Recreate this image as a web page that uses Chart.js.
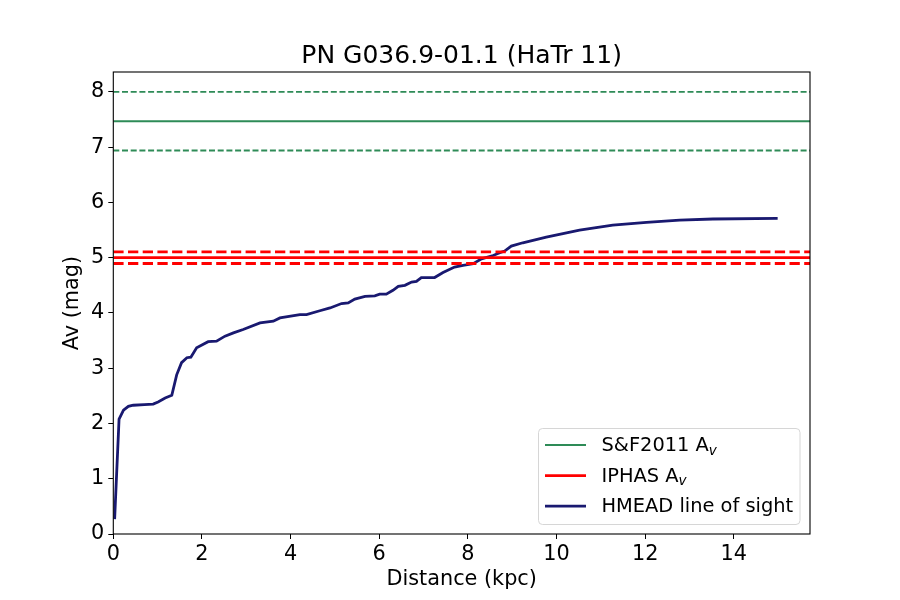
<!DOCTYPE html>
<html>
<head>
<meta charset="utf-8">
<script src="https://cdn.jsdelivr.net/npm/chart.js@4.4.1/dist/chart.umd.min.js"></script>
<style>
  html, body { margin: 0; padding: 0; background: #fff; }
  #wrap { width: 900px; height: 600px; }
</style>
</head>
<body>
<div id="wrap"><canvas id="avChart"></canvas></div>
<script>
// HMEAD line of sight
const distance = [0.03, 0.13, 0.23, 0.34, 0.45, 0.70, 0.90, 1.01, 1.17, 1.32, 1.43, 1.54, 1.66, 1.75, 1.88,
  2.14, 2.33, 2.52, 2.71, 2.93, 3.31, 3.61, 3.76, 4.21, 4.36, 4.66, 4.89, 5.15, 5.30, 5.45, 5.68,
  5.90, 6.01, 6.16, 6.31, 6.43, 6.58, 6.73, 6.84, 6.95, 7.25, 7.44, 7.70, 7.89, 8.12, 8.31, 8.57,
  8.72, 8.83, 8.98, 9.24, 9.77, 10.52, 11.27, 12.03, 12.78, 13.53, 14.99];
const hmeadAv = [0.27, 2.08, 2.24, 2.31, 2.33, 2.34, 2.35, 2.39, 2.46, 2.51, 2.88, 3.10, 3.19, 3.20, 3.37,
  3.48, 3.49, 3.58, 3.64, 3.70, 3.82, 3.85, 3.91, 3.97, 3.97, 4.04, 4.09, 4.17, 4.18, 4.25, 4.30,
  4.31, 4.34, 4.34, 4.41, 4.48, 4.50, 4.56, 4.57, 4.64, 4.64, 4.73, 4.83, 4.86, 4.89, 4.98, 5.04,
  5.09, 5.12, 5.21, 5.27, 5.37, 5.50, 5.59, 5.64, 5.68, 5.70, 5.71];

const sfAv = 7.47, sfErr = 0.53;
const iphasAv = 5.0, iphasErr = 0.105;

const xMax = 15.72, yMax = 8.36;
const xTicks = [0, 2, 4, 6, 8, 10, 12, 14];
const yTicks = [0, 1, 2, 3, 4, 5, 6, 7, 8];

const FONT = "'DejaVu Sans', sans-serif";

function hline(v) {
  return [{x: 0, y: v}, {x: xMax, y: v}];
}

let curve = distance.map((d, i) => ({x: d, y: hmeadAv[i]}));

// draws box around plot + matplotlib style legend
const framePlugin = {
  id: 'frame',
  afterDraw(chart) {
    const c = chart.ctx, a = chart.chartArea;
    c.save();
    c.strokeStyle = '#000';
    c.lineWidth = 1.1;
    c.strokeRect(a.left, a.top, a.right - a.left, a.bottom - a.top);

    // legend
    const items = chart.data.datasets.filter(ds => ds.legendText);
    const bx = 538.5, by = 428.5, bw = 261.5, bh = 96;
    c.beginPath();
    c.roundRect(bx, by, bw, bh, 4);
    c.fillStyle = 'rgba(255,255,255,0.8)';
    c.fill();
    c.strokeStyle = '#d6d6d6';
    c.lineWidth = 1;
    c.stroke();
    items.forEach((ds, i) => {
      const y = 445 + i * 30.6;
      c.strokeStyle = ds.borderColor;
      c.lineWidth = ds.borderWidth;
      c.beginPath();
      c.moveTo(545, y);
      c.lineTo(586, y);
      c.stroke();
      c.fillStyle = '#000';
      c.textBaseline = 'middle';
      c.font = '19.4px ' + FONT;
      let t = ds.legendText[0];
      c.fillText(t, 601.5, y + 1);
      if (ds.legendText[1]) {
        const w = c.measureText(t).width;
        c.font = 'italic 13.6px ' + FONT;
        c.fillText(ds.legendText[1], 601.5 + w, y + 6);
      }
    });
    c.restore();
  }
};

const ctx = document.getElementById('avChart');
const chart = new Chart(ctx, {
  type: 'line',
  data: {
    datasets: [
      { data: hline(sfAv + sfErr), borderColor: '#2e8b57', borderWidth: 1.9, borderDash: [6, 2.7] },
      { data: hline(sfAv), borderColor: '#2e8b57', borderWidth: 1.9, legendText: ['S&F2011 A', 'v'] },
      { data: hline(sfAv - sfErr), borderColor: '#2e8b57', borderWidth: 1.9, borderDash: [6, 2.7] },
      { data: hline(iphasAv + iphasErr), borderColor: '#ff0000', borderWidth: 2.8, borderDash: [10.3, 4.4] },
      { data: hline(iphasAv), borderColor: '#ff0000', borderWidth: 2.8, legendText: ['IPHAS A', 'v'] },
      { data: hline(iphasAv - iphasErr), borderColor: '#ff0000', borderWidth: 2.8, borderDash: [10.3, 4.4] },
      { data: curve, borderColor: '#191970', borderWidth: 2.8, legendText: ['HMEAD line of sight'] }
    ]
  },
  options: {
    responsive: true,
    maintainAspectRatio: false,
    animation: false,
    elements: { point: { radius: 0 }, line: { tension: 0, borderCapStyle: 'butt' } },
    layout: { padding: { top: 0, left: 0, right: 90, bottom: 0 } },
    plugins: {
      legend: { display: false },
      tooltip: { enabled: false },
      title: {
        display: true,
        fullSize: false,
        text: 'PN G036.9-01.1 (HaTr 11)',
        color: '#000',
        font: { family: FONT, size: 25, weight: 'normal' },
        padding: { top: 41, bottom: 1 }
      }
    },
    scales: {
      x: {
        type: 'linear',
        min: 0,
        max: xMax,
        afterFit(s) { s.height = 66; },
        afterBuildTicks(s) { s.ticks = xTicks.map(v => ({value: v})); },
        grid: { drawOnChartArea: false, drawTicks: true, tickLength: 5, color: '#000', tickWidth: 1 },
        border: { display: false },
        ticks: { color: '#000', font: { family: FONT, size: 20.8 }, padding: 3, maxRotation: 0 },
        title: { display: true, text: 'Distance (kpc)', color: '#000', font: { family: FONT, size: 20.8 }, padding: { top: 0, bottom: 8 } }
      },
      y: {
        type: 'linear',
        min: 0,
        max: yMax,
        afterFit(s) { s.width = 113.3; },
        afterBuildTicks(s) { s.ticks = yTicks.map(v => ({value: v})); },
        grid: { drawOnChartArea: false, drawTicks: true, tickLength: 5, color: '#000', tickWidth: 1 },
        border: { display: false },
        ticks: { color: '#000', font: { family: FONT, size: 20.8 }, padding: 4 },
        title: { display: true, text: 'Av (mag)', color: '#000', font: { family: FONT, size: 20.8 }, padding: { top: 60, bottom: 0 } }
      }
    }
  },
  plugins: [framePlugin]
});
</script>
</body>
</html>
